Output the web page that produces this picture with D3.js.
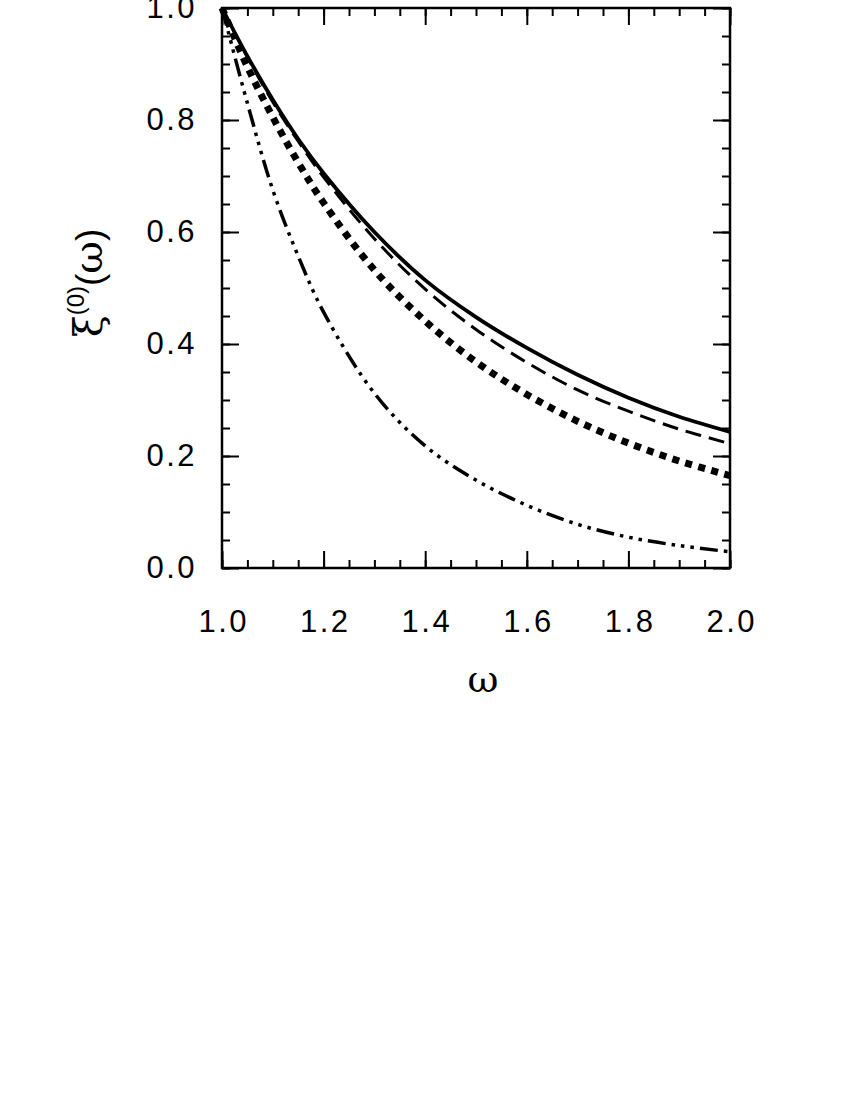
<!DOCTYPE html>
<html><head><meta charset="utf-8">
<script src="https://cdn.jsdelivr.net/npm/d3@7"></script>
<style>body{margin:0;background:#fff}</style>
</head><body>
<svg id="c" width="850" height="1100"></svg>
<script>
const omega = [1.0,1.05,1.1,1.15,1.2,1.3,1.4,1.5,1.6,1.7,1.8,1.9,2.0];
const solidVals   = [1.0,0.914,0.836,0.766,0.705,0.600,0.514,0.448,0.393,0.345,0.304,0.270,0.243];
const dashedVals  = [1.0,0.912,0.832,0.762,0.698,0.588,0.498,0.426,0.367,0.318,0.280,0.248,0.222];
const squareVals  = [1.0,0.895,0.805,0.724,0.652,0.532,0.441,0.368,0.310,0.262,0.223,0.191,0.165];
const dashDotVals = [1.0,0.830,0.675,0.557,0.457,0.312,0.218,0.157,0.112,0.078,0.055,0.040,0.029];
const xTicks = [1.0,1.2,1.4,1.6,1.8,2.0];
const yTicks = [0.0,0.2,0.4,0.6,0.8,1.0];

const svg = d3.select("#c");
const L=222,R=730,T=8,B=568;
const x = d3.scaleLinear().domain([1,2]).range([L,R]);
const y = d3.scaleLinear().domain([0,1]).range([B,T]);
const minorX = d3.range(1,2.0001,0.05);
const minorY = d3.range(0,1.0001,0.05);

function styleAxis(g){g.select(".domain").remove();g.selectAll("line").attr("stroke","#000").attr("stroke-width",2);}

const font = "'Liberation Sans', Arial, sans-serif";
// bottom
svg.append("g").attr("transform",`translate(0,${B})`)
  .call(d3.axisBottom(x).tickValues(minorX).tickSizeInner(-8).tickSizeOuter(0).tickFormat("")).call(styleAxis);
svg.append("g").attr("transform",`translate(0,${B})`)
  .call(d3.axisBottom(x).tickValues(xTicks).tickSizeInner(-17).tickSizeOuter(0).tickPadding(42).tickFormat(d3.format(".1f")))
  .call(styleAxis)
  .call(g=>g.selectAll("text").attr("font-family",font).attr("font-size",31).attr("fill","#000").style("letter-spacing","2.5px").attr("dx","1.2"));
// top
svg.append("g").attr("transform",`translate(0,${T})`)
  .call(d3.axisTop(x).tickValues(minorX).tickSizeInner(-8).tickSizeOuter(0).tickFormat("")).call(styleAxis);
svg.append("g").attr("transform",`translate(0,${T})`)
  .call(d3.axisTop(x).tickValues(xTicks).tickSizeInner(-17).tickSizeOuter(0).tickFormat("")).call(styleAxis);
// left
svg.append("g").attr("transform",`translate(${L},0)`)
  .call(d3.axisLeft(y).tickValues(minorY).tickSizeInner(-8).tickSizeOuter(0).tickFormat("")).call(styleAxis);
svg.append("g").attr("transform",`translate(${L},0)`)
  .call(d3.axisLeft(y).tickValues(yTicks).tickSizeInner(-17).tickSizeOuter(0).tickPadding(25).tickFormat(d3.format(".1f")))
  .call(styleAxis)
  .call(g=>g.selectAll("text").attr("font-family",font).attr("font-size",31).attr("fill","#000").style("letter-spacing","2.5px"));
// right
svg.append("g").attr("transform",`translate(${R},0)`)
  .call(d3.axisRight(y).tickValues(minorY).tickSizeInner(-8).tickSizeOuter(0).tickFormat("")).call(styleAxis);
svg.append("g").attr("transform",`translate(${R},0)`)
  .call(d3.axisRight(y).tickValues(yTicks).tickSizeInner(-17).tickSizeOuter(0).tickFormat("")).call(styleAxis);

// curves
const line = d3.line().x((d,i)=>x(omega[i])).y(d=>y(d)).curve(d3.curveCatmullRom.alpha(0.5));
const series = [
  {v: dashDotVals, w: 3.5, dash: "18,6,3.5,6,3.5,6,3.5,6"},
  {v: squareVals, w: 7, dash: "7,6.5"},
  {v: dashedVals, w: 3, dash: "16,8"},
  {v: solidVals, w: 3.8, dash: null}
];
svg.append("g").selectAll("path").data(series).join("path")
  .attr("d",d=>line(d.v)).attr("fill","none").attr("stroke","#000")
  .attr("stroke-width",d=>d.w).attr("stroke-dasharray",d=>d.dash);

// frame
svg.append("rect").attr("x",L).attr("y",T).attr("width",R-L).attr("height",B-T)
  .attr("fill","none").attr("stroke","#000").attr("stroke-width",2.5);

// axis labels
svg.append("text").attr("x",483).attr("y",692).attr("text-anchor","middle")
  .attr("font-family","'DejaVu Serif', serif").attr("font-size",38).text("ω");
const yl = svg.append("text").attr("transform","translate(102,283) rotate(-90)").attr("text-anchor","middle")
  .attr("font-family","'DejaVu Serif', serif").attr("font-size",40);
yl.append("tspan").text("ξ");
yl.append("tspan").attr("font-family",font).attr("font-size",24).attr("dy",-18).text("(0)");
yl.append("tspan").attr("font-family",font).attr("font-size",37).attr("dy",18).text("(");
yl.append("tspan").text("ω");
yl.append("tspan").attr("font-family",font).attr("font-size",37).text(")");
</script>
</body></html>
